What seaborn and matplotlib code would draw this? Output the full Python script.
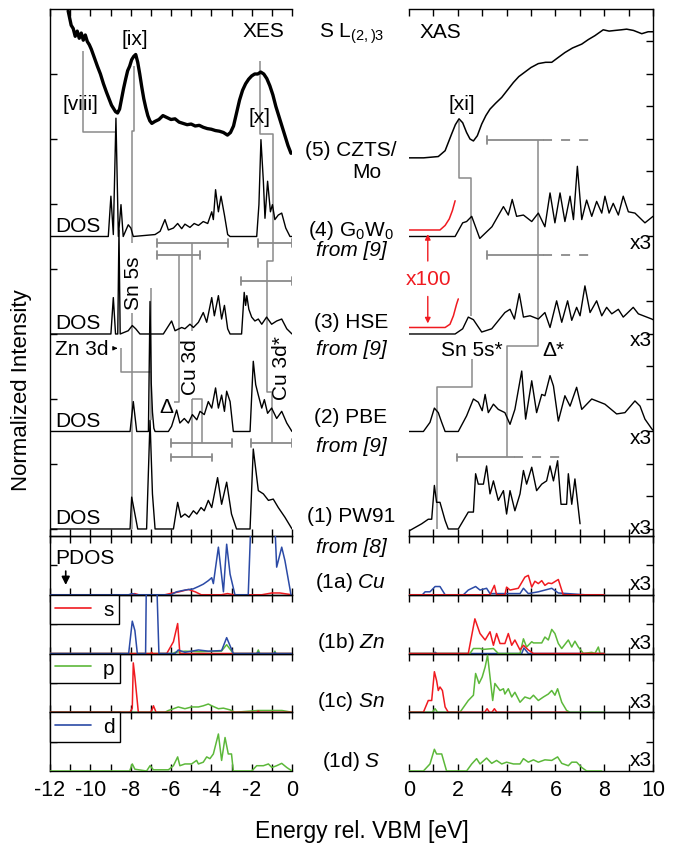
import numpy as np
import pandas as pd
import matplotlib
matplotlib.use("Agg")
import matplotlib.pyplot as plt
from matplotlib.lines import Line2D
from matplotlib.ticker import MultipleLocator
import seaborn as sns

# ======================= DATA =======================
# --- experimental S L2,3 XES of CZTS/Mo (upper-panel units) ---
xes_exp_E = [-11.10, -10.95, -10.85, -10.75, -10.65, -10.55, -10.45, -10.35, -10.25, -10.15,
             -10.05, -9.95, -9.80, -9.65, -9.50, -9.35, -9.20, -9.05, -8.95, -8.85,
             -8.75, -8.65, -8.55, -8.45, -8.35, -8.25, -8.15, -8.05, -7.95, -7.85,
             -7.75, -7.65, -7.55, -7.45, -7.35, -7.25, -7.15, -7.05, -6.95, -6.80,
             -6.60, -6.40, -6.20, -6.00, -5.80, -5.60, -5.40, -5.20, -5.00, -4.80,
             -4.60, -4.40, -4.20, -4.00, -3.80, -3.60, -3.40, -3.20, -3.05, -2.90,
             -2.75, -2.60, -2.45, -2.30, -2.15, -2.00, -1.85, -1.70, -1.55, -1.40,
             -1.25, -1.10, -0.95, -0.80, -0.65, -0.50, -0.35, -0.20, -0.05]
xes_exp_I = [7.97, 7.75, 7.70, 7.58, 7.66, 7.55, 7.63, 7.52, 7.60, 7.50,
             7.45, 7.38, 7.25, 7.12, 7.00, 6.85, 6.72, 6.60, 6.52, 6.47,
             6.42, 6.40, 6.46, 6.62, 6.78, 6.92, 7.05, 7.12, 7.22, 7.27,
             7.30, 7.18, 7.00, 6.80, 6.62, 6.48, 6.36, 6.28, 6.24, 6.27,
             6.30, 6.36, 6.33, 6.30, 6.31, 6.26, 6.24, 6.22, 6.23, 6.20,
             6.21, 6.18, 6.16, 6.15, 6.13, 6.12, 6.10, 6.06, 6.10, 6.20,
             6.40, 6.60, 6.75, 6.85, 6.92, 6.97, 7.00, 7.00, 7.03, 7.00,
             6.93, 6.82, 6.68, 6.50, 6.35, 6.20, 6.05, 5.90, 5.78]

# --- experimental S L2,3 XAS of CZTS/Mo ---
xas_exp_E = [0.0, 0.6, 1.2, 1.48, 1.75, 1.9, 2.05, 2.2, 2.36, 2.5,
             2.64, 2.8, 2.98, 3.15, 3.32, 3.55, 3.8, 4.05, 4.28, 4.5,
             4.75, 5.0, 5.3, 5.6, 5.85, 6.1, 6.39, 6.7, 7.08, 7.35,
             7.62, 7.96, 8.2, 8.44, 8.7, 8.92, 9.2, 9.54, 9.8, 10.0]
xas_exp_I = [5.71, 5.71, 5.73, 5.82, 6.08, 6.22, 6.31, 6.25, 6.10, 6.00,
             5.97, 6.05, 6.23, 6.36, 6.46, 6.55, 6.64, 6.76, 6.87, 6.96,
             7.03, 7.10, 7.16, 7.18, 7.18, 7.25, 7.33, 7.40, 7.46, 7.53,
             7.59, 7.68, 7.66, 7.67, 7.68, 7.69, 7.67, 7.62, 7.65, 7.65]

# --- calculated DOS (occupied side, relative to each curve's baseline) ---
g0w0_xes_E = [-12.0, -9.11, -8.98, -8.86, -8.73, -8.61, -8.48, -8.37, -8.12, -7.99, -7.87,
              -6.79, -6.54, -6.30, -6.13, -5.88, -5.67, -5.47, -5.31, -5.06, -4.85, -4.64,
              -4.40, -4.18, -3.98, -3.90, -3.79, -3.65, -3.52, -3.35, -3.19, -3.07, -1.75,
              -1.64, -1.54, -1.42, -1.34, -1.21, -1.07, -0.97, -0.85, -0.68, -0.51, -0.31,
              -0.10, 0.0]
g0w0_xes_I = [0, 0, 0.62, 0.03, 1.82, 0, 0.49, 0, 0.18, 0.13, 0,
              0.03, 0.08, 0.26, 0.10, 0.13, 0.20, 0.12, 0.19, 0.14, 0.20, 0.17,
              0.23, 0.20, 0.38, 0.26, 0.72, 0.38, 0.62, 0.33, 0.03, 0, 0,
              0.49, 1.49, 0.85, 0.28, 0.85, 0.38, 0.49, 0.26, 0.33, 0.36, 0.13,
              0, 0]
hse_xes_E = [-12.0, -8.98, -8.86, -8.75, -8.64, -8.58, -8.52, -8.12, -7.92, -7.75, -7.54,
             -6.38, -5.97, -5.80, -5.47, -5.31, -5.06, -4.89, -4.64, -4.40, -4.23, -3.98,
             -3.85, -3.65, -3.49, -3.35, -3.19, -3.07, -2.50, -2.37, -2.30, -2.24, -2.14,
             -2.00, -1.84, -1.67, -1.50, -1.26, -1.01, -0.76, -0.51, -0.26, 0.0]
hse_xes_I = [0, 0, 0.56, 0, 0, 1.60, 0, 0.05, 0.13, 0.08, 0,
             0, 0.20, 0.05, 0.10, 0.08, 0.15, 0.10, 0.18, 0.33, 0.18, 0.56,
             0.28, 0.59, 0.23, 0.44, 0.08, 0, 0, 0.64, 0.44, 0.59, 0.38,
             0.26, 0.20, 0.23, 0.15, 0.26, 0.15, 0.20, 0.23, 0.08, 0]
pbe_xes_E = [-12.0, -8.03, -7.87, -7.70, -7.12, -7.04, -6.98, -6.92, -6.85, -6.79, -6.13,
             -5.97, -5.72, -5.56, -5.34, -5.14, -4.94, -4.72, -4.56, -4.35, -4.15, -3.98,
             -3.79, -3.65, -3.49, -3.35, -3.24, -3.07, -2.91, -2.08, -1.92, -1.80, -1.67,
             -1.50, -1.37, -1.21, -1.01, -0.76, -0.51, -0.26, 0.0]
pbe_xes_I = [0, 0, 0.46, 0, 0, 2.00, 0.75, 0.30, 0.05, 0, 0,
             0.08, 0.33, 0.13, 0.20, 0.13, 0.26, 0.18, 0.31, 0.26, 0.46, 0.36,
             0.67, 0.36, 0.56, 0.31, 0.62, 0.46, 0, 0, 1.08, 0.72, 0.56,
             0.36, 0.49, 0.28, 0.36, 0.20, 0.31, 0.13, 0]
pw91_xes_E = [-12.0, -8.03, -7.95, -7.82, -7.65, -7.21, -7.04, -6.92, -6.79, -5.88, -5.67,
              -5.51, -5.31, -5.11, -4.89, -4.72, -4.51, -4.35, -4.15, -3.98, -3.69, -3.49,
              -3.24, -3.00, -2.75, -2.08, -1.92, -1.67, -1.42, -1.17, -0.93, -0.68, -0.35, 0.0]
pw91_xes_I = [0, 0, 0.49, 0.28, 0, 0, 1.67, 0.54, 0, 0, 0.41,
              0.18, 0.23, 0.18, 0.28, 0.23, 0.33, 0.28, 0.44, 0.33, 0.79, 0.38,
              0.72, 0.23, 0, 0, 1.23, 0.59, 0.54, 0.44, 0.46, 0.33, 0.18, 0]

# --- calculated DOS (unoccupied side, x3, relative to baseline) ---
g0w0_xas_E = [0.0, 1.89, 2.2, 2.36, 2.57, 2.9, 3.4, 3.87, 4.07, 4.23, 4.41, 4.69, 5.03, 5.3,
              5.57, 5.78, 5.98, 6.19, 6.39, 6.6, 6.74, 6.9, 7.08, 7.28, 7.49, 7.69, 7.9, 8.03,
              8.2, 8.37, 8.58, 8.78, 8.99, 9.26, 9.67, 10.0]
g0w0_xas_I = [0, 0, 0.21, 0.23, 0.31, -0.03, 0.15, 0.46, 0.33, 0.57, 0.31, 0.33, 0.23, 0.36,
              0.15, 0.67, 0.21, 0.67, 0.23, 0.62, 0.26, 1.08, 0.26, 0.56, 0.31, 0.54, 0.36, 0.62,
              0.36, 0.51, 0.33, 0.62, 0.38, 0.36, 0.21, 0.31]
hse_xas_E = [0.0, 1.89, 2.2, 2.43, 2.64, 2.98, 3.39, 3.93, 4.14, 4.32, 4.52, 4.69, 4.96, 5.3,
             5.57, 5.78, 6.05, 6.26, 6.5, 6.67, 6.87, 7.01, 7.21, 7.42, 7.69, 7.9, 8.1, 8.31,
             8.58, 8.78, 8.92, 9.19, 9.4, 9.95, 10.0]
hse_xas_I = [0, 0, 0.08, 0.26, 0.22, 0.03, 0.08, 0.33, 0.38, 0.23, 0.62, 0.26, 0.28, 0.23,
             0.33, 0.10, 0.51, 0.18, 0.51, 0.21, 0.41, 0.28, 0.74, 0.33, 0.51, 0.28, 0.41, 0.31,
             0.38, 0.26, 0.31, 0.41, 0.31, 0.23, 0.22]
pbe_xas_E = [0.0, 0.59, 0.86, 1.04, 1.2, 1.34, 1.48, 2.02, 2.36, 2.64, 2.84, 3.0, 3.12, 3.25,
             3.46, 3.66, 3.93, 4.14, 4.34, 4.62, 4.78, 5.03, 5.23, 5.44, 5.57, 5.78, 5.92, 6.12,
             6.39, 6.6, 6.87, 7.08, 7.49, 8.03, 8.51, 8.85, 9.26, 9.47, 9.67, 9.95, 10.0]
pbe_xas_I = [0, 0, 0.14, 0.36, 0.29, 0.14, 0, 0, 0.24, 0.5, 0.45, 0.32, 0.57, 0.29,
             0.42, 0.34, 0.29, 0.11, 0.34, 0.93, 0.19, 0.78, 0.29, 0.57, 0.55, 0.86, 0.7, 0.16,
             0.55, 0.39, 0.68, 0.34, 0.5, 0.42, 0.27, 0.29, 0.47, 0.39, 0.19, 0.04, 0.02]
pw91_xas_E = [0.0, 0.52, 0.79, 0.93, 1.04, 1.13, 1.27, 1.48, 1.61, 2.02, 2.43, 2.64, 2.73,
              2.84, 3.05, 3.18, 3.32, 3.46, 3.66, 3.87, 4.0, 4.14, 4.34, 4.55, 4.69, 4.82, 5.03,
              5.23, 5.44, 5.64, 5.78, 5.92, 6.09, 6.23, 6.46, 6.53, 6.67, 6.8, 7.01]
pw91_xas_I = [-0.03, 0.08, 0.15, 0.15, 0.67, 0.41, 0.41, 0.13, 0, 0, 0.26, 0.26, 0.85,
              0.69, 0.69, 0.97, 0.54, 0.74, 0.44, 0.59, 0.23, 0.59, 0.28, 0.54, 0.9, 0.69, 0.95,
              0.59, 0.69, 0.74, 0.97, 0.74, 1.05, 0.38, 0.38, 0.85, 0.38, 0.77, 0.08]

# --- x100 magnified onsets (relative to baseline) ---
g0w0_x100_E = [0.0, 1.27, 1.48, 1.65, 1.78, 1.89]
g0w0_x100_I = [0.10, 0.10, 0.17, 0.27, 0.40, 0.55]
hse_x100_E = [0.0, 1.48, 1.68, 1.82, 1.95, 2.02]
hse_x100_I = [0.10, 0.10, 0.15, 0.28, 0.46, 0.54]

# --- PDOS panels (occupied, left) ---
cu_s_L_E = [-12, -8.0, -7.8, -7.6, -6.3, -6.05, -5.6, -5.14, -4.8, -4.5, -3.5, -3.2, -2.9, -1.5, -1.0, -0.6, 0]
cu_s_L_I = [0, 0, 0.02, 0, 0, 0.02, 0.05, 0.09, 0.05, 0.0, 0.0, 0.02, 0.0, 0.0, 0.03, 0.03, 0]
cu_d_L_E = [-12, -8.1, -7.92, -7.75, -6.0, -5.72, -5.31, -4.9, -4.64, -4.4, -4.15, -3.98, -3.9,
            -3.65, -3.4, -3.24, -3.07, -2.83, -2.17, -2.0, -0.9, -0.76, -0.51, -0.35, -0.05, 0]
cu_d_L_I = [0, 0, 0.02, 0, 0, 0.05, 0.08, 0.1, 0.14, 0.18, 0.24, 0.29, 0.19,
            0.81, 0.05, 0.86, 0.35, 0, 0, 1.6, 1.6, 0.47, 0.81, 0.58, 0, 0]
zn_d_L_E = [-12, -8.1, -7.92, -7.79, -7.67, -7.26, -7.21, -6.74, -6.6, -5.8, -5.64, -5.31,
            -4.64, -4.15, -3.49, -3.24, -2.91, -1.75, -1.67, -1.6, -0.9, -0.85, -0.8, 0]
zn_d_L_I = [0, 0, 0.55, 0.39, 0, 0, 1.6, 1.6, 0, 0, 0.06, 0.02,
            0.06, 0.04, 0.05, 0.27, 0, 0, 0.02, 0, 0, 0.02, 0, 0]
zn_s_L_E = [-12, -7.0, -6.96, -6.9, -6.21, -5.88, -5.67, -5.56, 0]
zn_s_L_I = [0, 0, 0.02, 0, 0, 0.2, 0.51, 0, 0]
zn_p_L_E = [-12, -5.9, -5.8, -5.3, -4.6, -3.5, -3.24, -2.91, -1.75, -1.67, -1.6, -0.9, -0.85, -0.8, 0]
zn_p_L_I = [0, 0, 0.02, 0.04, 0.03, 0.04, 0.15, 0, 0, 0.06, 0, 0, 0.04, 0, 0]
sn_s_L_E = [-12, -8.03, -7.92, -7.87, -7.79, -7.62, -7.04, -6.95, -6.87, -6.74, -1.75, -1.67, -1.6, 0]
sn_s_L_I = [0, 0, 0.07, 0.84, 0.6, 0, 0, 0.03, 0.11, 0, 0, 0.02, 0, 0]
sn_p_L_E = [-12, -6.3, -6.13, -5.88, -5.64, -5.31, -4.98, -4.64, -4.4, -4.15, -3.98, -3.65,
            -3.4, -3.07, -2.83, -1.7, -0.5, 0]
sn_p_L_I = [0, 0, 0.03, 0.06, 0.09, 0.06, 0.09, 0.09, 0.11, 0.14, 0.11, 0.06,
            0.07, 0.04, 0.0, 0.03, 0.03, 0]
s_p_L_E = [-12, -8.05, -7.92, -7.79, -7.21, -7.04, -6.87, -6.13, -5.88, -5.67,
           -5.56, -5.31, -4.98, -4.73, -4.64, -4.4, -4.23, -4.07, -3.9, -3.65,
           -3.49, -3.32, -3.16, -3.0, -2.91, -2.0, -1.75, -1.42, -1.17, -1.0,
           -0.76, -0.51, -0.26, 0.0]
s_p_L_I = [0, 0, 0.12, 0.03, 0, 0.09, 0.02, 0.02, 0.09, 0.24,
           0.09, 0.12, 0.12, 0.18, 0.12, 0.15, 0.24, 0.21, 0.29, 0.63,
           0.18, 0.57, 0.29, 0.29, 0, 0, 0.09, 0.09, 0.12, 0.06,
           0.09, 0.13, 0.06, 0]

# --- PDOS panels (unoccupied, right, x3) ---
cu_d_R_E = [0, 0.55, 0.66, 0.86, 1.07, 1.27, 1.48, 2.23, 2.43, 2.73, 2.91, 3.18, 3.32, 4.55,
            4.69, 4.89, 5.3, 5.85, 6.12, 7.21, 8.0]
cu_d_R_I = [0, 0, 0.05, 0.05, 0.14, 0.14, 0, 0, 0.08, 0.14, 0.08, 0.11, 0.02, 0.02,
            0.11, 0.02, 0.05, 0.11, 0.03, 0, 0]
cu_s_R_E = [0, 3.32, 3.5, 3.59, 3.93, 4.0, 4.14, 4.48, 4.75, 4.89, 5.03, 5.16, 5.3, 5.44,
            5.57, 5.71, 5.85, 6.12, 6.32, 8.0]
cu_s_R_I = [0, 0, 0.16, 0, 0, 0.13, 0.08, 0.11, 0.3, 0.33, 0.13, 0.23, 0.19, 0.24,
            0.16, 0.2, 0.19, 0.26, 0, 0]
zn_s_R_E = [0, 2.43, 2.7, 2.91, 3.12, 3.32, 3.46, 3.59, 3.73, 3.93, 4.07, 4.21, 4.34, 4.55,
            4.69, 4.89, 5.1, 8.0]
zn_s_R_I = [0, 0, 0.59, 0.34, 0.23, 0.37, 0.14, 0.34, 0.17, 0.17, 0.34, 0.14, 0.23, 0.06,
            0.14, 0.06, 0, 0]
zn_p_R_E = [0, 2.5, 2.64, 2.77, 2.91, 3.05, 3.46, 3.66, 4.55, 4.69, 4.82, 5.03, 5.1, 5.44,
            5.57, 5.71, 5.85, 5.98, 6.12, 6.26, 6.53, 6.67, 6.8, 6.94, 7.15, 7.49, 7.62, 7.76,
            7.83, 8.0]
zn_p_R_I = [0, 0, 0.085, 0.085, 0.085, 0.07, 0.085, 0, 0, 0.25, 0.11, 0.2, 0.18, 0.18,
            0.28, 0.23, 0.41, 0.34, 0.17, 0.085, 0.23, 0.11, 0.21, 0.11, 0, 0.02, 0, 0.11,
            0, 0]
zn_d_R_E = [0, 1.0, 1.07, 1.15, 4.62, 4.71, 4.89, 8.0]
zn_d_R_I = [0, 0, 0.02, 0, 0, 0.095, 0, 0]
sn_s_R_E = [0, 0.59, 0.79, 0.93, 1.04, 1.13, 1.2, 1.27, 1.37, 1.48, 1.61, 3.1, 3.2, 3.3,
            3.4, 3.5, 3.6, 6.5]
sn_s_R_I = [0, 0, 0.2, 0.2, 0.69, 0.54, 0.37, 0.43, 0.37, 0.09, 0, 0, 0.06, 0,
            0, 0.06, 0, 0]
sn_p_R_E = [0, 0.95, 1.07, 1.17, 2.09, 2.43, 2.64, 2.73, 2.87, 3.0, 3.12, 3.22, 3.43, 3.52,
            3.73, 3.87, 3.93, 4.07, 4.21, 4.34, 4.55, 4.75, 4.96, 5.1, 5.3, 5.51, 5.71, 5.85,
            5.98, 6.09, 6.26, 6.46, 6.6, 8.0]
sn_p_R_I = [0, 0, 0.06, 0, 0, 0.2, 0.29, 0.66, 0.49, 0.6, 0.77, 0.97, 0.2, 0.49,
            0.37, 0.4, 0.31, 0.4, 0.26, 0.34, 0.17, 0.26, 0.23, 0.29, 0.2, 0.26, 0.31, 0.37,
            0.29, 0.4, 0.17, 0.03, 0, 0]
s_p_R_E = [0, 0.59, 0.86, 1.04, 1.13, 1.34, 1.54, 2.36, 2.57, 2.77, 2.91, 3.18, 3.39, 3.59,
           3.8, 4.0, 4.28, 4.55, 4.69, 4.89, 5.1, 5.3, 5.57, 5.85, 6.09, 6.26, 6.53, 6.67,
           6.87, 7.08, 7.28, 7.9]
s_p_R_I = [0, 0, 0.12, 0.37, 0.29, 0.29, 0, 0, 0.12, 0.21, 0.12, 0.22, 0.13, 0.18,
           0.12, 0.15, 0.12, 0.12, 0.21, 0.15, 0.19, 0.15, 0.19, 0.18, 0.24, 0.13, 0.09, 0.15,
           0.15, 0.06, 0, 0]

# curve baselines (stack offsets) in the upper panels
OFF_PW91, OFF_PBE, OFF_HSE, OFF_G0W0 = 0.0, 1.5, 3.0, 4.5

# annotation geometry (energy, intensity)
ann_paths_left = [
    [(-10.35, 7.36), (-10.35, 6.10), (-8.75, 6.10)],
    [(-7.85, 7.13), (-7.85, 6.13), (-7.95, 6.13), (-7.95, 4.40)],
    [(-7.95, 3.33), (-7.95, 0.0)],
    [(-1.59, 7.20), (-1.59, 6.08), (-0.93, 6.08), (-0.93, 4.40)],
    [(-0.93, 4.40), (-0.93, 4.13), (-1.26, 4.13), (-1.26, 3.82)],
    [(-1.26, 3.82), (-1.26, 2.10), (-1.01, 2.10), (-1.01, 1.32)],
    [(-4.97, 4.40), (-4.97, 3.05)],
    [(-4.97, 2.00), (-4.97, 1.10)],
    [(-4.97, 2.00), (-4.48, 2.00), (-4.48, 1.32)],
    [(-5.60, 4.22), (-5.60, 1.95), (-5.85, 1.95)],
    [(-8.50, 2.78), (-8.50, 2.42), (-6.98, 2.42)],
    [(-6.98, 3.70), (-6.98, 1.67)],
]
brackets_left = [(-6.71, -3.16, 4.40), (-6.71, -4.56, 4.22), (-1.67, -0.02, 4.40),
                 (-2.52, -0.02, 3.82), (-6.02, -3.00, 1.32), (-6.02, -3.98, 1.10),
                 (-2.04, -0.02, 1.32)]
ann_paths_right = [
    [(2.06, 6.28), (2.06, 5.40), (2.54, 5.40), (2.54, 3.28)],
    [(2.60, 2.62), (2.60, 2.18), (1.13, 2.18), (1.13, 0.0)],
    [(5.27, 5.98), (5.27, 2.82), (4.00, 2.82), (4.00, 1.10)],
]
brackets_right = [(3.18, 5.50, 7.46, 5.98), (3.18, 5.50, 7.46, 4.22), (1.95, 4.30, 6.30, 1.10)]

# ======================= STYLE =======================
sns.set_theme(style="ticks")
plt.rcParams["font.family"] = ["Liberation Sans", "DejaVu Sans"]
plt.rcParams.update({
    "mathtext.fontset": "custom",
    "mathtext.rm": "Liberation Sans",
    "mathtext.it": "Liberation Sans:italic",
    "axes.unicode_minus": False,
    "axes.linewidth": 1.0,
    "axes.edgecolor": "black",
    "text.color": "black",
    "axes.labelcolor": "black",
    "xtick.color": "black",
    "ytick.color": "black",
})

RED, GREEN, BLUE = "#f01a20", "#5cb83a", "#2b4aa6"
GRAY = "#8a8a8a"
FS = 15
W, H = 680, 853

def fx(px):
    return px / W

def fy(py):
    return 1 - py / H

fig = plt.figure(figsize=(6.8, 8.53), dpi=100, facecolor="white")

LX0, LX1, RX0, RX1 = 50, 292, 409, 653
UY0, UY1, BOT = 10, 537, 772
ROW = (BOT - UY1) / 4.0
YLIM_U = (-0.108, 8.0)

axUL = fig.add_axes([fx(LX0), fy(UY1), (LX1 - LX0) / W, (UY1 - UY0) / H])
axUR = fig.add_axes([fx(RX0), fy(UY1), (RX1 - RX0) / W, (UY1 - UY0) / H])
axPL, axPR = [], []
for i in range(4):
    top = UY1 + i * ROW
    axPL.append(fig.add_axes([fx(LX0), fy(top + ROW), (LX1 - LX0) / W, ROW / H]))
    axPR.append(fig.add_axes([fx(RX0), fy(top + ROW), (RX1 - RX0) / W, ROW / H]))


def curve(ax, x, y, color="black", lw=1.0, offset=0.0, z=3):
    df = pd.DataFrame({"E": x, "I": np.asarray(y, float) + offset})
    sns.lineplot(data=df, x="E", y="I", ax=ax, color=color, lw=lw,
                 estimator=None, sort=False, legend=False, zorder=z)
    ax.set_xlabel("")
    ax.set_ylabel("")


def style(ax, side, xlim, ylim, yticks, labels=False):
    ax.set_xlim(*xlim)
    ax.set_ylim(*ylim)
    ax.xaxis.set_major_locator(MultipleLocator(2))
    ax.xaxis.set_minor_locator(MultipleLocator(1))
    ax.set_yticks(yticks)
    ax.yaxis.set_minor_locator(plt.NullLocator())
    for s in ("top", "bottom"):
        ax.spines[s].set_visible(True)
    if side == "left":
        ax.spines["right"].set_visible(False)
        ax.spines["left"].set_visible(True)
        ax.tick_params(axis="y", which="both", left=True, right=False, labelleft=False,
                       labelright=False, direction="in", length=5, width=1)
    else:
        ax.spines["left"].set_visible(False)
        ax.spines["right"].set_visible(True)
        ax.tick_params(axis="y", which="both", left=False, right=True, labelleft=False,
                       labelright=False, direction="in", length=5, width=1)
    ax.tick_params(axis="x", which="both", top=True, bottom=True, direction="in",
                   length=5, width=1, labelbottom=labels, labeltop=False,
                   labelsize=15.5, pad=6, colors="black")
    ax.set_facecolor("none")


def path(ax, pts):
    xs = [p[0] for p in pts]
    ys = [p[1] for p in pts]
    ax.plot(xs, ys, color=GRAY, lw=1.1, zorder=2, solid_capstyle="butt")


def bracket(ax, x0, x1, y, xdash=None):
    ax.plot([x0, x1], [y, y], color=GRAY, lw=1.3, zorder=2)
    ax.plot([x0, x0], [y - 0.06, y + 0.06], color=GRAY, lw=1.3, zorder=2)
    if xdash is None:
        ax.plot([x1, x1], [y - 0.06, y + 0.06], color=GRAY, lw=1.3, zorder=2)
    else:
        ax.plot([x1, xdash], [y, y], color=GRAY, lw=1.3, ls=(0, (5, 5)), zorder=2)

# ======================= UPPER LEFT (XES) =======================
curve(axUL, xes_exp_E, xes_exp_I, lw=2.4)
curve(axUL, g0w0_xes_E, g0w0_xes_I, offset=OFF_G0W0)
curve(axUL, hse_xes_E, hse_xes_I, offset=OFF_HSE)
curve(axUL, pbe_xes_E, pbe_xes_I, offset=OFF_PBE)
curve(axUL, pw91_xes_E, pw91_xes_I, offset=OFF_PW91)
for p in ann_paths_left:
    path(axUL, p)
for b in brackets_left:
    bracket(axUL, *b)
style(axUL, "left", (-12, 0), YLIM_U, list(range(0, 8)))

for off in (OFF_G0W0, OFF_HSE, OFF_PBE, OFF_PW91):
    axUL.text(-11.75, off + 0.17, "DOS", fontsize=FS, ha="left", va="center")
axUL.text(-1.42, 7.67, "XES", fontsize=FS, ha="center", va="center")
axUL.text(-7.79, 7.55, "[ix]", fontsize=FS, ha="center", va="center")
axUL.text(-10.49, 6.54, "[viii]", fontsize=FS, ha="center", va="center")
axUL.text(-1.59, 6.35, "[x]", fontsize=FS, ha="center", va="center")
axUL.text(-7.87, 3.80, "Sn 5s", fontsize=FS, ha="center", va="center", rotation=90)
axUL.text(-5.02, 2.51, "Cu 3d", fontsize=FS, ha="center", va="center", rotation=90)
axUL.text(-0.51, 2.49, "Cu 3d*", fontsize=FS, ha="center", va="center", rotation=90)
axUL.text(-6.25, 1.88, "Δ", fontsize=FS, ha="center", va="center")
axUL.text(-11.75, 2.78, "Zn 3d", fontsize=FS, ha="left", va="center")
axUL.annotate("", xy=(-8.52, 2.78), xytext=(-8.9, 2.78),
              arrowprops=dict(arrowstyle="-|>", color="black", lw=0.8, mutation_scale=6))

# ======================= UPPER RIGHT (XAS) =======================
curve(axUR, xas_exp_E, xas_exp_I, lw=1.1)
curve(axUR, g0w0_xas_E, g0w0_xas_I, offset=OFF_G0W0)
curve(axUR, hse_xas_E, hse_xas_I, offset=OFF_HSE)
curve(axUR, pbe_xas_E, pbe_xas_I, offset=OFF_PBE)
curve(axUR, pw91_xas_E, pw91_xas_I, offset=OFF_PW91)
curve(axUR, g0w0_x100_E, g0w0_x100_I, color=RED, lw=1.1, offset=OFF_G0W0)
curve(axUR, hse_x100_E, hse_x100_I, color=RED, lw=1.1, offset=OFF_HSE)
for p in ann_paths_right:
    path(axUR, p)
for (x0, x1, xd, y) in brackets_right:
    bracket(axUR, x0, x1, y, xdash=xd)
style(axUR, "right", (0, 10), YLIM_U, list(np.arange(0, 8.0, 0.5)))

axUR.text(1.29, 7.65, "XAS", fontsize=FS, ha="center", va="center")
axUR.text(2.18, 6.54, "[xi]", fontsize=FS, ha="center", va="center")
axUR.text(2.57, 2.76, "Sn 5s*", fontsize=FS, ha="center", va="center")
axUR.text(5.90, 2.76, "Δ*", fontsize=FS, ha="center", va="center")
axUR.text(0.79, 3.85, "x100", fontsize=FS, ha="center", va="center", color=RED)
axUR.annotate("", xy=(0.77, 4.58), xytext=(0.77, 4.08),
              arrowprops=dict(arrowstyle="-|>", color=RED, lw=1.0, mutation_scale=8))
axUR.annotate("", xy=(0.77, 3.12), xytext=(0.77, 3.62),
              arrowprops=dict(arrowstyle="-|>", color=RED, lw=1.0, mutation_scale=8))
for yy in (4.41, 2.91, 1.41, 0.03):
    axUR.text(9.97, yy, "x3", fontsize=FS, ha="right", va="center")

# ======================= PDOS PANELS =======================
pdos_left = [
    [(cu_s_L_E, cu_s_L_I, RED), (cu_d_L_E, cu_d_L_I, BLUE)],
    [(zn_p_L_E, zn_p_L_I, GREEN), (zn_s_L_E, zn_s_L_I, RED), (zn_d_L_E, zn_d_L_I, BLUE)],
    [(sn_p_L_E, sn_p_L_I, GREEN), (sn_s_L_E, sn_s_L_I, RED)],
    [(s_p_L_E, s_p_L_I, GREEN)],
]
pdos_right = [
    [(cu_d_R_E, cu_d_R_I, BLUE), (cu_s_R_E, cu_s_R_I, RED)],
    [(zn_d_R_E, zn_d_R_I, BLUE), (zn_p_R_E, zn_p_R_I, GREEN), (zn_s_R_E, zn_s_R_I, RED)],
    [(sn_p_R_E, sn_p_R_I, GREEN), (sn_s_R_E, sn_s_R_I, RED)],
    [(s_p_R_E, s_p_R_I, GREEN)],
]
for i in range(4):
    for (e, v, c) in pdos_left[i]:
        curve(axPL[i], e, v, color=c, lw=1.1)
    for (e, v, c) in pdos_right[i]:
        curve(axPR[i], e, v, color=c, lw=1.1)
    style(axPL[i], "left", (-12, 0), (0, 1.0), [0.5], labels=(i == 3))
    style(axPR[i], "right", (0, 10), (0, 1.0), [0.5], labels=(i == 3))
    axPR[i].text(9.97, 0.19, "x3", fontsize=FS, ha="right", va="center")

axPL[0].text(-11.75, 0.64, "PDOS", fontsize=FS, ha="left", va="center")
axPL[0].annotate("", xy=(-11.22, 0.12), xytext=(-11.22, 0.45),
                 arrowprops=dict(arrowstyle="-|>", color="black", lw=1.2, mutation_scale=12))

for ax, lab, col in zip(axPL[1:], ["s", "p", "d"], [RED, GREEN, BLUE]):
    leg = ax.legend(handles=[Line2D([], [], color=col, lw=1.2)], labels=[lab],
                    loc="upper left", bbox_to_anchor=(0.0, 1.0), borderaxespad=0.0,
                    frameon=True, fancybox=False, edgecolor="black", framealpha=1.0,
                    fontsize=FS, handlelength=1.7, handletextpad=0.6, borderpad=0.25)
    leg.get_frame().set_linewidth(1.0)

# ======================= MIDDLE LABELS =======================
fig.text(fx(352), fy(38), r"S L$_{(2,)3}$", fontsize=FS, ha="center", va="baseline")
mid_labels = [
    ("(5) CZTS/", 351, 150, "normal"), ("Mo", 367, 173, "normal"),
    (r"(4) G$_0$W$_0$", 351, 230, "normal"), ("from [9]", 351, 251, "italic"),
    ("(3) HSE", 351, 322, "normal"), ("from [9]", 351, 350, "italic"),
    ("(2) PBE", 351, 418, "normal"), ("from [9]", 351, 447, "italic"),
    ("(1) PW91", 351, 517, "normal"), ("from [8]", 351, 548, "italic"),
    (r"(1a) $\mathit{Cu}$", 351, 583, "normal"), (r"(1b) $\mathit{Zn}$", 351, 643, "normal"),
    (r"(1c) $\mathit{Sn}$", 351, 702, "normal"), (r"(1d) $\mathit{S}$", 351, 762, "normal"),
]
for txt, px, py, st in mid_labels:
    fig.text(fx(px), fy(py), txt, fontsize=FS, ha="center", va="center", fontstyle=st)

fig.text(fx(22), fy(390), "Normalized Intensity", fontsize=16, rotation=90,
         ha="center", va="center")
fig.text(fx(362), fy(832), "Energy rel. VBM [eV]", fontsize=16.5, ha="center", va="center")

fig.savefig("out.png", dpi=100, facecolor="white")
